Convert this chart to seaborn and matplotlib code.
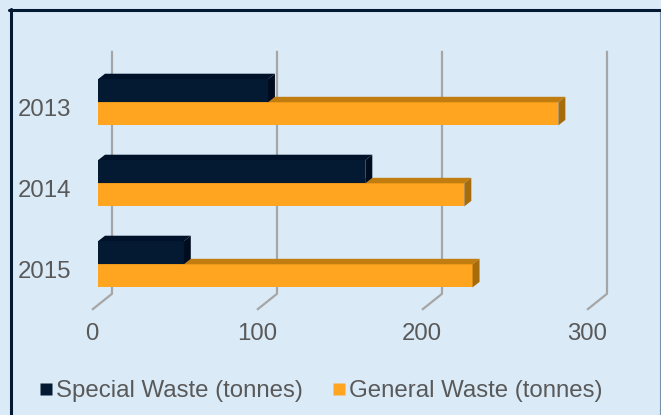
import matplotlib
matplotlib.use("Agg")
import matplotlib.pyplot as plt
import seaborn as sns
import pandas as pd
from matplotlib.patches import Polygon
from matplotlib.lines import Line2D
from matplotlib.transforms import ScaledTranslation
from matplotlib.colors import to_hex

# ---- data ----
years = ["2013", "2014", "2015"]
special = [103, 162, 52]
general = [279, 222, 227]
series_names = ["Special Waste (tonnes)", "General Waste (tonnes)"]
x_ticks = [0, 100, 200, 300]

# ---- style ----
W, H, DPI = 661, 415, 100
BG = "#DAEAF6"
NAVY = "#041A33"
NAVY_TOP = "#00112A"
NAVY_SIDE = "#000C1F"
ORANGE = "#FFA51F"
ORANGE_TOP = "#C27D10"
ORANGE_SIDE = "#A66C0B"
GRID = "#A6A6A6"
TEXT = "#595959"
FS = 17.3

df = pd.DataFrame({
    "Year": years * 2,
    "Value": special + general,
    "Series": [series_names[0]] * len(years) + [series_names[1]] * len(years),
})

sns.set_theme(style="white")
plt.rcParams["font.family"] = ["Liberation Sans", "DejaVu Sans"]

fig = plt.figure(figsize=(W / DPI, H / DPI), dpi=DPI, facecolor=BG)

# plot area (front plane of the bars) in pixels
left_px, right_px = 98, 593
top_px, bot_px = 61.8, 304.8
ax = fig.add_axes([left_px / W, 1 - bot_px / H, (right_px - left_px) / W, (bot_px - top_px) / H])
ax.set_facecolor("none")

sns.barplot(data=df, y="Year", x="Value", hue="Series", orient="h",
            order=years, hue_order=series_names, palette=[NAVY, ORANGE],
            width=0.57, saturation=1, legend=False, ax=ax, zorder=1)
ax.set_xlim(0, 300)
ax.set_ylim(2.5, -0.5)
for s in ax.spines.values():
    s.set_visible(False)
ax.set_xlabel("")
ax.set_ylabel("")

pxx = (right_px - left_px) / 300.0   # px per x unit
pxy = (bot_px - top_px) / 3.0        # px per y unit

# gridlines: back plane + diagonal floor to front plane
bdx, bdy = 14 / pxx, -11 / pxy
fdx, fdy = -6 / pxx, 5 / pxy
for t in x_ticks:
    ax.plot([t + bdx, t + bdx, t + fdx], [-0.5 + bdy, 2.5 + bdy, 2.5 + fdy],
            color=GRID, lw=1.6, clip_on=False, zorder=0.5, solid_capstyle="butt")

# 3D faces for bars
ddx, ddy = 7 / pxx, -5.5 / pxy
for p in list(ax.patches):
    x0, y0, w, h = p.get_x(), p.get_y(), p.get_width(), p.get_height()
    is_special = to_hex(p.get_facecolor()).lower() == NAVY.lower()
    top_c, side_c = (NAVY_TOP, NAVY_SIDE) if is_special else (ORANGE_TOP, ORANGE_SIDE)
    z = 2 if is_special else 1
    p.set_zorder(z)
    p.set_edgecolor("none")
    top = Polygon([(x0, y0), (x0 + w, y0), (x0 + w + ddx, y0 + ddy), (x0 + ddx, y0 + ddy)],
                  closed=True, facecolor=top_c, edgecolor="none", zorder=z + 0.1, clip_on=False)
    side = Polygon([(x0 + w, y0), (x0 + w, y0 + h), (x0 + w + ddx, y0 + h + ddy), (x0 + w + ddx, y0 + ddy)],
                   closed=True, facecolor=side_c, edgecolor="none", zorder=z + 0.1, clip_on=False)
    ax.add_patch(top)
    ax.add_patch(side)

# ticks
ax.set_xticks(x_ticks)
ax.set_xticklabels([str(t) for t in x_ticks])
ax.set_yticks(range(len(years)))
ax.set_yticklabels(years)
ax.tick_params(axis="x", length=0, pad=12.8, labelsize=FS, labelcolor=TEXT)
ax.tick_params(axis="y", length=0, pad=19.4, labelsize=FS, labelcolor=TEXT)
for lab in ax.get_xticklabels():
    lab.set_transform(lab.get_transform() + ScaledTranslation(-6 / DPI, 0, fig.dpi_scale_trans))
for lab in ax.get_yticklabels():
    lab.set_transform(lab.get_transform() + ScaledTranslation(0, -5 / DPI, fig.dpi_scale_trans))

# legend
handles = [Line2D([0], [0], marker="s", linestyle="none", markersize=8.8,
                  markerfacecolor=c, markeredgecolor="none") for c in (NAVY, ORANGE)]
fig.legend(handles, series_names, loc="center", bbox_to_anchor=(321 / W, 1 - 391 / H),
           ncol=2, frameon=False, fontsize=FS, labelcolor=TEXT,
           handlelength=0.55, handletextpad=0.17, columnspacing=1.2, borderaxespad=0,
           borderpad=0)

# chart border
fig.add_artist(Line2D([9 / W, 1.0], [1 - 10.5 / H] * 2, color=NAVY, lw=2.2, transform=fig.transFigure))
fig.add_artist(Line2D([10.5 / W] * 2, [0, 1 - 9 / H], color=NAVY, lw=2.2, transform=fig.transFigure))
fig.add_artist(Line2D([659.5 / W] * 2, [0, 1 - 12 / H], color="#7890A8", lw=0.8, transform=fig.transFigure))

fig.savefig("out.png", dpi=DPI, facecolor=BG)
